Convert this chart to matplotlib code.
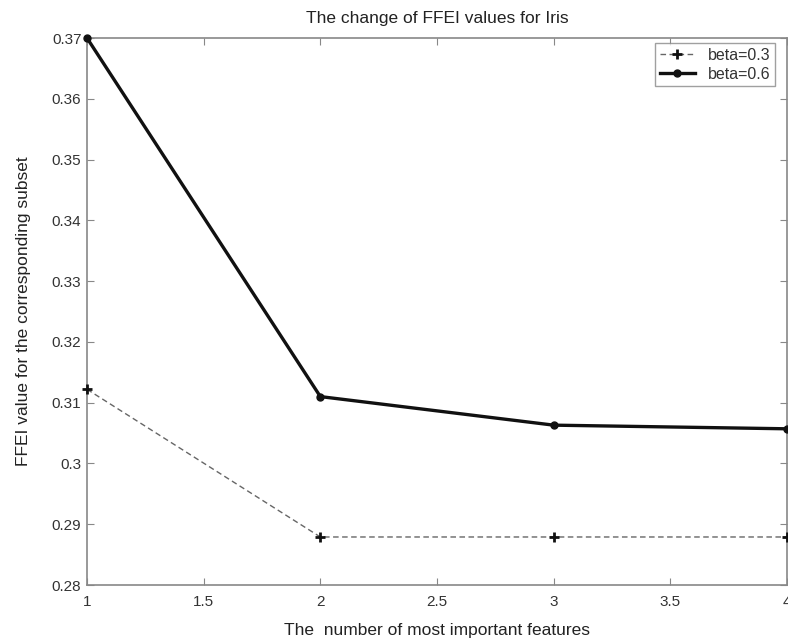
import matplotlib
matplotlib.use("Agg")
import matplotlib.pyplot as plt

x_vals = [1, 2, 3, 4]
beta03 = [0.3122, 0.2879, 0.2879, 0.2879]
beta06 = [0.3700, 0.3110, 0.3063, 0.3057]
labels = ["beta=0.3", "beta=0.6"]
x_ticks = [1, 1.5, 2, 2.5, 3, 3.5, 4]
x_ticklabels = ["1", "1.5", "2", "2.5", "3", "3.5", "4"]
y_ticks = [0.28, 0.29, 0.30, 0.31, 0.32, 0.33, 0.34, 0.35, 0.36, 0.37]
y_ticklabels = ["0.28", "0.29", "0.3", "0.31", "0.32", "0.33", "0.34", "0.35", "0.36", "0.37"]

plt.rcParams['font.family'] = ['Liberation Sans', 'DejaVu Sans']

fig = plt.figure(figsize=(7.88, 6.44), dpi=100)
ax = fig.add_axes([87/788, 59/644, 700/788, 547/644])

ax.plot(x_vals, beta03, linestyle=(0, (4, 2.5)), color='#666666', linewidth=1.0,
        marker='+', markersize=7, markeredgewidth=2, markeredgecolor='#111111',
        label=labels[0], clip_on=False, zorder=3)
ax.plot(x_vals, beta06, linestyle='-', color='#111111', linewidth=2.4,
        marker='o', markersize=5, markerfacecolor='#111111', markeredgecolor='#111111',
        label=labels[1], clip_on=False, zorder=4)

ax.set_xlim(1, 4)
ax.set_ylim(0.28, 0.37)
ax.set_xticks(x_ticks)
ax.set_xticklabels(x_ticklabels)
ax.set_yticks(y_ticks)
ax.set_yticklabels(y_ticklabels)

for s in ax.spines.values():
    s.set_color('#888888')
    s.set_linewidth(1.2)
ax.tick_params(direction='in', length=5, width=0.8, colors='#888888',
               labelcolor='#333333', labelsize=11, top=True, right=True)
ax.tick_params(axis='x', pad=7)
ax.tick_params(axis='y', pad=4)

ax.set_title("The change of FFEI values for Iris", fontsize=12.5, color='#222222', pad=11)
ax.set_xlabel("The  number of most important features", fontsize=12.5, color='#222222', labelpad=10)
ax.set_ylabel("FFEI value for the corresponding subset", fontsize=12.5, color='#222222', labelpad=15)

leg = ax.legend(loc='upper right', fontsize=11.5, frameon=True, fancybox=False,
                edgecolor='#888888', borderpad=0.3, handlelength=2.2, labelspacing=0.25,
                handletextpad=0.8, borderaxespad=0.0,
                bbox_to_anchor=(0.983, 0.991))
leg.get_frame().set_linewidth(1.0)
for t in leg.get_texts():
    t.set_color('#333333')

fig.savefig("out.png", dpi=100)
